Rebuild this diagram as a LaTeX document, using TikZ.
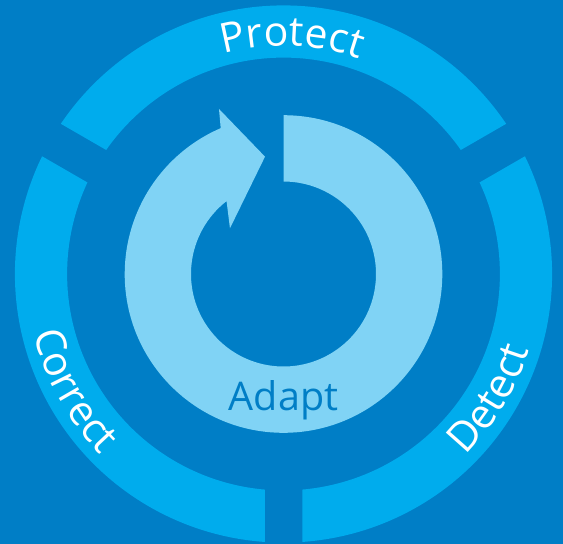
\documentclass[tikz,border=0pt]{standalone}
\usepackage{fontspec}
\usetikzlibrary{decorations.text}
\newfontfamily\lblfont{Open Sans}
\definecolor{bgblue}{RGB}{0,126,198}
\definecolor{ringblue}{RGB}{0,172,237}
\definecolor{arrowblue}{RGB}{128,211,245}
\tikzset{
  ringseg/.style={fill=ringblue},
  cyclearrow/.style={fill=arrowblue},
  ringlabel/.style={decorate, decoration={text along path, text align=center,
    text={|\lblfont\fontsize{41}{41}\selectfont\color{white}|#1}}},
  centerlabel/.style={font=\lblfont\fontsize{39.5}{39.5}\selectfont, text=bgblue, inner sep=0pt, anchor=base}
}
\begin{document}
\begin{tikzpicture}[x=1pt,y=1pt]
\fill[bgblue] (0,0) rectangle (563,-544);
\useasboundingbox (0,0) rectangle (563,-544);
\coordinate (C) at (283.5,-274);
\begin{scope}[shift={(C)}]
  % Protect segment
  \fill[ringseg] (34.003:268.6pt) arc[start angle=34.003, end angle=145.997, radius=268.6pt]
    -- (145.029:216.4pt) arc[start angle=145.029, end angle=34.971, radius=216.4pt] -- cycle;
  % Correct segment
  \fill[ringseg] (154.003:268.6pt) arc[start angle=154.003, end angle=265.997, radius=268.6pt]
    -- (265.029:216.4pt) arc[start angle=265.029, end angle=154.971, radius=216.4pt] -- cycle;
  % Detect segment
  \fill[ringseg] (274.003:268.6pt) arc[start angle=274.003, end angle=385.997, radius=268.6pt]
    -- (385.029:216.4pt) arc[start angle=385.029, end angle=274.971, radius=216.4pt] -- cycle;
  % circular arrow
  \fill[cyclearrow] (90:158.8pt) arc[start angle=90, end angle=-246.7, radius=158.8pt]
    -- (111.35:177.2pt) -- (98.96:118.8pt) -- (139.5:70.4pt)
    -- (128:92.5pt) arc[start angle=128, end angle=450, radius=92.5pt] -- cycle;
  % ring labels
  \path[ringlabel=Protect] (148:228pt) arc[start angle=148, end angle=28, radius=228pt];
  \path[ringlabel=Correct] (149:257pt) arc[start angle=149, end angle=269, radius=257pt];
  \path[ringlabel=Detect] (269:257pt) arc[start angle=269, end angle=389, radius=257pt];
\end{scope}
\node[centerlabel] (adapt) at (283.5,-410) {Adapt};
\end{tikzpicture}
\end{document}
